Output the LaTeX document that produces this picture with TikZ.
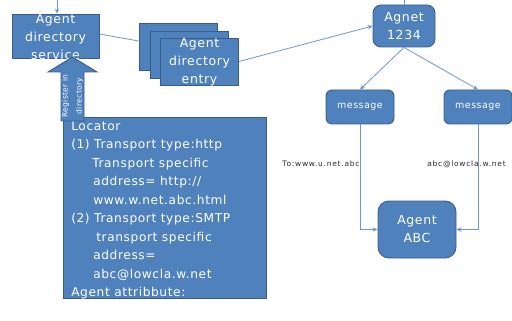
\documentclass[tikz,border=0pt]{standalone}
\usepackage{fontspec}
\usepackage{tikz}
\usetikzlibrary{arrows.meta,calc}
\usetikzlibrary{positioning,shapes}
\newfontfamily\slidefont[LetterSpace=5]{DejaVu Sans}
\newfontfamily\tagfont[LetterSpace=10]{DejaVu Sans}
\definecolor{boxblue}{RGB}{79,129,189}
\definecolor{boxedge}{RGB}{56,93,138}
\definecolor{wireblue}{RGB}{110,150,205}
\tikzstyle{wire}=[-, draw=wireblue, line width=0.8pt]
\tikzstyle{panel}=[rectangle, draw=boxedge, fill=boxblue, text=white,
		line width=0.9pt, inner sep=0pt, align=center,
		font=\slidefont\fontsize{12.5}{18}\selectfont]
\tikzstyle{roundpanel}=[panel, rounded corners=8pt]
\tikzstyle{paneltext}=[text=white, align=center, inner sep=0pt,
		font=\slidefont\fontsize{12.5}{18}\selectfont]
\tikzstyle{tagtext}=[text=black!85, inner sep=0pt,
		font=\tagfont\fontsize{7.5}{8}\selectfont]

\begin{document}
\begin{tikzpicture}[x=1pt, y=-1pt, >={Stealth[length=5pt,width=4.5pt]}]

  \useasboundingbox (0,0) rectangle (512,321);

    % directory service and its entries
    \node (DirSvc) [panel, minimum width=87pt, minimum height=44pt]
    at (55.5,36) {};
    \node (DirSvcTxt) [paneltext] at ([yshift=-1pt]DirSvc.center)
    {Agent\\directory\\service};

    \node (EntryC) [panel, minimum width=78pt, minimum height=47pt]
    at (178,46.5) {};
    \node (EntryB) [panel, minimum width=78pt, minimum height=47pt]
    at (189,54.5) {};
    \node (EntryA) [panel, minimum width=78pt, minimum height=47pt]
    at (199.5,61.5) {};
    \node (EntryTxt) [paneltext] at ([yshift=-1pt]EntryA.center)
    {Agent\\directory\\entry};

    % locator
    \node (Loc) [panel, minimum width=203pt, minimum height=181pt]
    at (164.5,207.5) {};
    \node (LocTxt) [anchor=north west, text=white, align=left,
    		     inner xsep=8.5pt, inner ysep=4.5pt,
    		     font=\slidefont\fontsize{12.2}{18.5}\selectfont]
    at (Loc.north west) {
      Locator\\
      (1) Transport type:http\\
      \hspace*{21pt}Transport specific\\
      \hspace*{22pt}address= http://\\
      \hspace*{22pt}www.w.net.abc.html\\
      (2) Transport type:SMTP\\
      \hspace*{25pt}transport specific\\
      \hspace*{22pt}address=\\
      \hspace*{22pt}abc@lowcla.w.net\\
      Agent attribbute:
    };

    % register arrow
    \filldraw [fill=boxblue, draw=boxedge, line width=0.9pt]
    (61,121) -- (61,72) -- (48,72) -- (72.5,57) -- (97,72) -- (84,72)
    -- (84,121) -- cycle;
    \node (RegTxt) [rotate=90, text=white, align=center, inner sep=0pt,
    		     font=\slidefont\fontsize{7.5}{14}\selectfont]
    at (72.5,96) {Register in\\directory};

    % agents and messages
    \node (Agnet) [roundpanel, minimum width=62pt, minimum height=42pt]
    at (404,26) {Agnet\\1234};

    \node (MsgL) [roundpanel, rounded corners=6pt, minimum width=68pt,
    		  minimum height=34pt, font=\slidefont\fontsize{9.5}{11}\selectfont]
    at (360,107) {message};
    \node (MsgR) [roundpanel, rounded corners=6pt, minimum width=68pt,
    		  minimum height=34pt, font=\slidefont\fontsize{9.5}{11}\selectfont]
    at (478,107) {message};

    \node (AgtABC) [roundpanel, rounded corners=11pt, minimum width=78pt,
    		    minimum height=57pt] at (417,229.5) {Agent\\ABC};

    \node (ToTag) [tagtext] at (321,164) {To:www.u.net.abc};
    \node (FromTag) [tagtext] at (466.5,164) {abc@lowcla.w.net};

    % connectors
    \coordinate (TopIn) at (57,0);
    \coordinate (TopOut) at (404,0);

    \draw [wire, ->] (TopIn) -- (TopIn |- DirSvc.north);
    \draw [wire] ([yshift=2pt]DirSvc.east) -- ([yshift=5.5pt]EntryC.west);
    \draw [wire, ->] (EntryA.east) -- (Agnet.west);
    \draw [wire] (Agnet.north) -- (TopOut);
    \draw [wire, ->] (Agnet.south) -- (MsgL.north);
    \draw [wire, ->] (Agnet.south) -- (MsgR.north);
    \draw [wire, ->] (MsgL.south) |- (AgtABC.west);
    \draw [wire, ->] (MsgR.south) |- (AgtABC.east);

  \end{tikzpicture}
\end{document}
